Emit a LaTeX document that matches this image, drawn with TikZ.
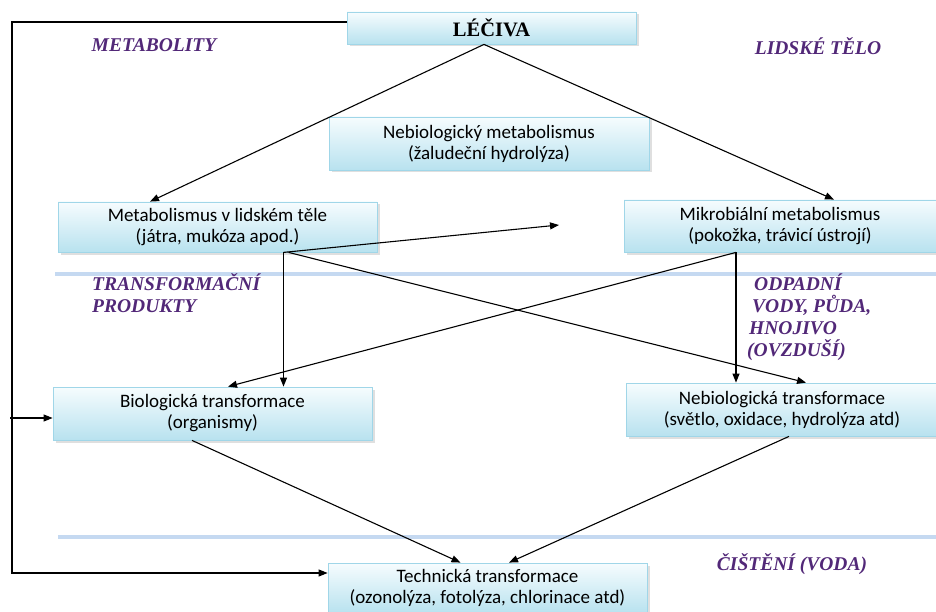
\documentclass[tikz,border=0pt]{standalone}
\usepackage{fontspec}
\setmainfont{Carlito}
\newfontfamily\tnr{Liberation Serif}
\usetikzlibrary{shadows,arrows.meta,calc}
\definecolor{boxtop}{RGB}{246,252,254}
\definecolor{boxbot}{RGB}{184,226,239}
\definecolor{boxborder}{RGB}{160,214,232}
\definecolor{sepblue}{RGB}{197,217,241}
\definecolor{lblpurple}{RGB}{82,40,120}
\begin{document}
\begin{tikzpicture}[x=1pt,y=-1pt,
  box/.style={draw=boxborder, line width=0.8pt, top color=boxtop, bottom color=boxbot,
    drop shadow={shadow xshift=2.5pt, shadow yshift=-2.5pt, fill=black!25},
    align=center, inner sep=0pt, font=\fontsize{19}{21}\selectfont},
  lbl/.style={text=lblpurple, font=\tnr\bfseries\itshape\fontsize{19.5}{22}\selectfont, inner sep=0pt},
  conn/.style={line width=1.1pt, draw=black, -{Triangle[length=9pt,width=7pt]}},
  sep/.style={draw=sepblue, line width=4pt}
]
\useasboundingbox (0,0) rectangle (936,612);

% separator lines
\draw[sep] (55,274) -- (936,274);
\draw[sep] (58,537) -- (936,537);

% boxes
\node[box, minimum width=289pt, minimum height=32pt, font=\tnr\bfseries\fontsize{20.5}{22}\selectfont] (lec) at (491.5,28) {LÉČIVA};
\node[box, minimum width=320pt, minimum height=53pt] (neb1) at (489,143.5) {Nebiologický metabolismus\\(žaludeční hydrolýza)};
\node[box, minimum width=319pt, minimum height=50pt] (met) at (217.5,227) {Metabolismus v lidském těle\\(játra, mukóza apod.)};
\node[box, minimum width=312pt, minimum height=52pt] (mik) at (780,226) {Mikrobiální metabolismus\\(pokožka, trávicí ústrojí)};
\node[box, minimum width=319pt, minimum height=53pt] (bio) at (212.5,413.5) {Biologická transformace\\(organismy)};
\node[box, minimum width=312pt, minimum height=53pt] (neb2) at (782,409.5) {Nebiologická transformace\\(světlo, oxidace, hydrolýza atd)};
\node[box, minimum width=319pt, minimum height=50pt] (tech) at (487.5,588) {Technická transformace\\(ozonolýza, fotolýza, chlorinace atd)};

% labels
\node[lbl] (l1) at (154,45) {METABOLITY};
\node[lbl] (l2) at (818,46) {LIDSKÉ TĚLO};
\node[lbl, align=left, anchor=north west] (l3) at (92,273) {TRANSFORMAČNÍ\\PRODUKTY};
\node[lbl, align=left, anchor=north west] (l4) at (747,274) {\hspace*{7pt}ODPADNÍ\\\hspace*{5pt}VODY, PŮDA,\\\hspace*{2pt}HNOJIVO\\(OVZDUŠÍ)};
\node[lbl] (l5) at (792,564) {ČIŠTĚNÍ (VODA)};

% coordinates
\coordinate (lecs) at ([xshift=-7.5pt]lec.south);
\coordinate (metj) at ([xshift=66pt]met.south);
\coordinate (mikj) at ([xshift=-44pt]mik.south);
\coordinate (free) at (559,225);
\coordinate (loopc) at (12,418);

% connectors
\draw[conn] (lecs) -- ([xshift=-67.5pt]met.north);
\draw[conn] (lecs) -- ([xshift=54pt]mik.north);
\draw[conn] (metj) -- (free);
\draw[conn] (metj) -- (metj |- bio.north);
\draw[conn] ([xshift=5pt]metj) -- ([xshift=24pt]neb2.north);
\draw[conn] (mikj) -- ([xshift=15.5pt]bio.north);
\draw[conn] (mikj) -- (mikj |- neb2.north);
\draw[conn] ([xshift=-20.5pt]bio.south) -- ([xshift=-27pt]tech.north);
\draw[conn] ([xshift=7pt]neb2.south) -- ([xshift=21.5pt]tech.north);
\draw[conn] ([yshift=6pt]lec.west) -- (12,22) |- ([yshift=15pt]tech.west);
\draw[conn] ([xshift=-2pt]loopc) -- (loopc -| bio.west);
\end{tikzpicture}
\end{document}
